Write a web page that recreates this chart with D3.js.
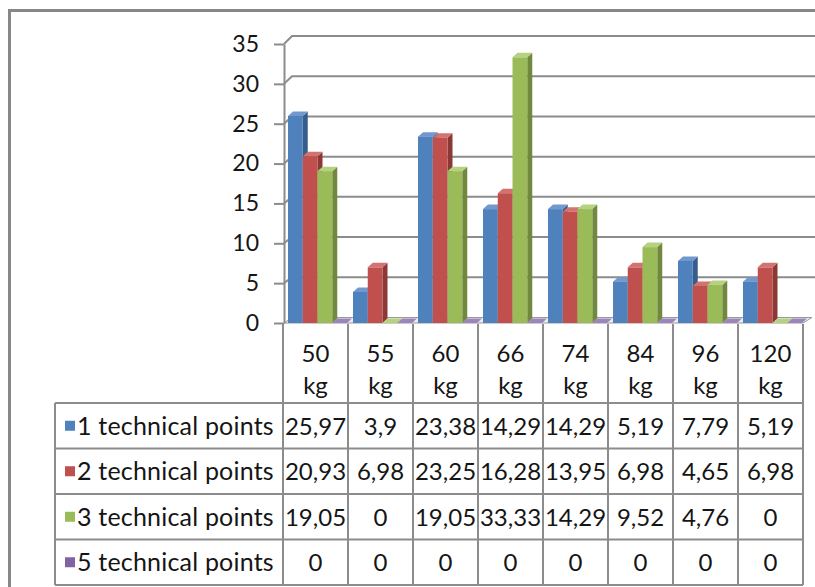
<!DOCTYPE html>
<html>
<head>
<meta charset="utf-8">
<script src="https://cdn.jsdelivr.net/npm/d3@7/dist/d3.min.js"></script>
<style>
  html, body { margin: 0; padding: 0; background: #fff; }
  svg { display: block; font-family: Lato, "Open Sans", sans-serif; }
</style>
</head>
<body>
<svg id="chart" width="815" height="587"></svg>
<script>
// Weight categories (top line: number, bottom line: unit)
const categories = ["50 kg", "55 kg", "60 kg", "66 kg", "74 kg", "84 kg", "96 kg", "120 kg"];
const seriesNames = ["1 technical points", "2 technical points", "3 technical points", "5 technical points"];
const points1 = [25.97, 3.9, 23.38, 14.29, 14.29, 5.19, 7.79, 5.19];
const points2 = [20.93, 6.98, 23.25, 16.28, 13.95, 6.98, 4.65, 6.98];
const points3 = [19.05, 0, 19.05, 33.33, 14.29, 9.52, 4.76, 0];
const points5 = [0, 0, 0, 0, 0, 0, 0, 0];
const yTicks = [0, 5, 10, 15, 20, 25, 30, 35];

const seriesValues = [points1, points2, points3, points5];
const palette = [
  { front: "#4F81BD", side: "#385D8A", top: "#7199CF" },
  { front: "#C0504D", side: "#8C3836", top: "#D27370" },
  { front: "#9BBB59", side: "#71893F", top: "#B5D27E" },
  { front: "#8064A2", side: "#5C4776", top: "#9C84BD" }
];

const svg = d3.select("#chart");
const W = 815, H = 587;
const gridColor = "#8c8c8c";
const textColor = "#151515";

// Scales
const x = d3.scaleBand().domain(categories).range([283, 803]);
const xs = d3.scaleBand().domain(seriesNames).range([5, 64]);
const y = d3.scaleLinear().domain([0, 35]).range([323, 44]);      // front plane
const yBack = d3.scaleLinear().domain([0, 35]).range([317.5, 36]); // back wall
const axisX = 284, wallDx = 8;
const depth = { dx: 5, dy: -4.5 };

// Outer frame (left and top edges)
svg.append("path")
  .attr("d", `M9.5,${H} V10.5 H${W}`)
  .attr("fill", "none").attr("stroke", "#878787").attr("stroke-width", 3);

// Back-wall gridlines with the side-wall diagonal
const grid = svg.append("g");
yTicks.filter(t => t > 0).forEach(t => {
  grid.append("path")
    .attr("d", `M${axisX},${y(t)} L${axisX + wallDx},${yBack(t)} H${W}`)
    .attr("fill", "none").attr("stroke", gridColor).attr("stroke-width", 2);
});

// Floor
svg.append("path")
  .attr("d", `M${axisX},${y(0)} L${x.range()[1]},${y(0)} L${x.range()[1] + 9},${yBack(0)} L${axisX + wallDx},${yBack(0)} Z`)
  .attr("fill", "#ececec").attr("stroke", "#9a9a9a").attr("stroke-width", 1);

// Y axis
const yAxis = svg.append("g")
  .attr("transform", `translate(${axisX},0)`)
  .call(d3.axisLeft(y).tickValues(yTicks).tickSize(10).tickPadding(15).tickSizeOuter(0));
yAxis.select(".domain").attr("stroke", gridColor).attr("stroke-width", 2);
yAxis.selectAll(".tick line").attr("stroke", gridColor).attr("stroke-width", 2);
yAxis.selectAll(".tick text")
  .attr("fill", textColor).style("font-size", "23px").style("font-family", "Lato, sans-serif");

// 3D bars
const bars = svg.append("g");
categories.forEach((cat, ci) => {
  seriesNames.forEach((name, si) => {
    const v = seriesValues[si][ci];
    const x0 = x(cat) + xs(name);
    const w = xs.bandwidth();
    const y0 = y(0), y1 = y(v);
    const c = palette[si];
    const g = bars.append("g");
    // side face
    g.append("path")
      .attr("d", `M${x0 + w},${y1} L${x0 + w + depth.dx},${y1 + depth.dy} L${x0 + w + depth.dx},${y0 + depth.dy} L${x0 + w},${y0} Z`)
      .attr("fill", c.side);
    // top face
    g.append("path")
      .attr("d", `M${x0},${y1} L${x0 + depth.dx},${y1 + depth.dy} L${x0 + w + depth.dx},${y1 + depth.dy} L${x0 + w},${y1} Z`)
      .attr("fill", c.top);
    // front face
    g.append("rect")
      .attr("x", x0).attr("y", y1).attr("width", w).attr("height", y0 - y1)
      .attr("fill", c.front);
  });
});

// Data table
const table = svg.append("g");
const headerTop = 324, headerBottom = 403, rowH = 45.5;
const tableLeft = 55, tableRight = x.range()[1];
const rowsBottom = headerBottom + rowH * seriesNames.length;
const fmt = v => String(v).replace(".", ",");

// header cells
categories.forEach(cat => {
  const [num, unit] = cat.split(" ");
  const cx = x(cat) + x.bandwidth() / 2;
  table.append("text").attr("x", cx).attr("y", 362).attr("text-anchor", "middle")
    .style("font-size", "24px").attr("fill", textColor).text(num);
  table.append("text").attr("x", cx).attr("y", 394).attr("text-anchor", "middle")
    .style("font-size", "24px").attr("fill", textColor).text(unit);
});

// rows
seriesNames.forEach((name, si) => {
  const top = headerBottom + rowH * si;
  const mid = top + rowH / 2;
  table.append("rect").attr("x", 65).attr("y", mid - 5).attr("width", 10).attr("height", 10)
    .attr("fill", palette[si].front);
  table.append("text").attr("x", 77).attr("y", mid + 9)
    .style("font-size", "25px").style("letter-spacing", "0.2px")
    .attr("fill", textColor).text(name);
  categories.forEach((cat, ci) => {
    table.append("text")
      .attr("x", x(cat) + x.bandwidth() / 2).attr("y", mid + 9)
      .attr("text-anchor", "middle").style("font-size", "24px").attr("fill", textColor)
      .text(fmt(seriesValues[si][ci]));
  });
});

// table grid lines
const lineAttrs = sel => sel.attr("stroke", gridColor).attr("stroke-width", 2).attr("fill", "none");
// horizontal lines of the data rows
d3.range(seriesNames.length + 1).forEach(i => {
  const yy = headerBottom + rowH * i;
  lineAttrs(table.append("line").attr("x1", tableLeft).attr("x2", tableRight).attr("y1", yy).attr("y2", yy));
});
// vertical lines of the category columns
categories.forEach(cat => {
  const xx = x(cat);
  lineAttrs(table.append("line").attr("x1", xx).attr("x2", xx).attr("y1", headerTop).attr("y2", rowsBottom));
});
lineAttrs(table.append("line").attr("x1", tableRight).attr("x2", tableRight).attr("y1", headerTop).attr("y2", rowsBottom));
lineAttrs(table.append("line").attr("x1", tableLeft).attr("x2", tableLeft).attr("y1", headerBottom).attr("y2", rowsBottom));
</script>
</body>
</html>
